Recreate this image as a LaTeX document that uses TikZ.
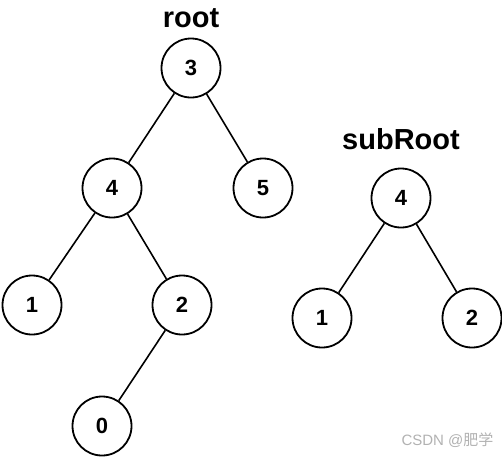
\documentclass[tikz,border=0pt]{standalone}
\usepackage{fontspec}
\setmainfont{Liberation Sans}
\newfontfamily\cjk{Noto Sans CJK SC}
\begin{document}
\begin{tikzpicture}[x=1pt,y=-1pt,
  tn/.style={circle,draw=black,line width=1.8pt,minimum size=59pt,inner sep=0pt,font=\bfseries\fontsize{22}{22}\selectfont,fill=white},
  lbl/.style={font=\bfseries\fontsize{29}{29}\selectfont},
  edge/.style={line width=1.6pt}]
\useasboundingbox (0,0) rectangle (502,458);
\fill[white] (0,0) rectangle (502,458);
\node[lbl] (lroot) at (191,18) {root};
\node[lbl] (lsub) at (401,139) {subRoot};
\node[tn] (n3) at (191,68) {3};
\node[tn] (n4) at (112,188) {4};
\node[tn] (n5) at (263,188) {5};
\node[tn] (n1) at (32,305) {1};
\node[tn] (n2) at (182,305) {2};
\node[tn] (n0) at (102,426) {0};
\node[tn] (s4) at (401,198) {4};
\node[tn] (s1) at (322,318) {1};
\node[tn] (s2) at (472,318) {2};
\draw[edge] (n3) -- (n4);
\draw[edge] (n3) -- (n5);
\draw[edge] (n4) -- (n1);
\draw[edge] (n4) -- (n2);
\draw[edge] (n2) -- (n0);
\draw[edge] (s4) -- (s1);
\draw[edge] (s4) -- (s2);
\node[text=gray!60,font=\fontsize{15}{15}\selectfont,anchor=east] (wm) at (497,440) {CSDN @{\cjk 肥学}};
\end{tikzpicture}
\end{document}
